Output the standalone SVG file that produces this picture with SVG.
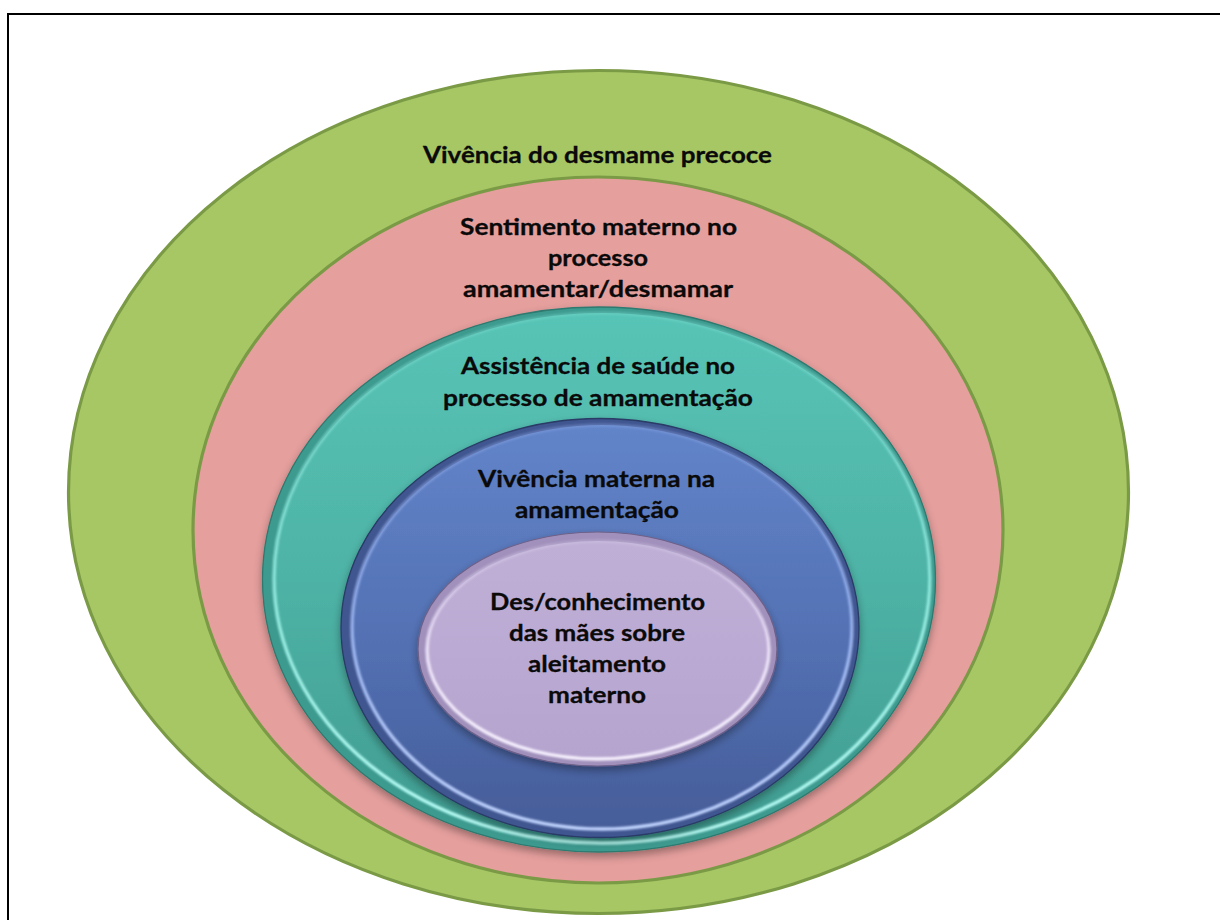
<svg xmlns="http://www.w3.org/2000/svg" width="1220" height="920" viewBox="0 0 1220 920">
  <style>
    .ring-line { stroke: #7B9A46; stroke-width: 3.2; }
    .lbl { font-family: Lato, "Open Sans", "Liberation Sans", sans-serif; font-weight: 700; font-size: 23.5px; fill: #0a0a0a; stroke: #0a0a0a; stroke-width: 0.3; }
    .rim { fill: none; stroke-width: 3.5; filter: url(#soften); }
  </style>
  <defs>
    <!-- soft drop shadow under the bevelled rings -->
    <filter id="drop" x="-10%" y="-10%" width="120%" height="125%">
      <feGaussianBlur in="SourceAlpha" stdDeviation="4"/>
      <feOffset dy="4" result="off"/>
      <feComponentTransfer><feFuncA type="linear" slope="0.35"/></feComponentTransfer>
      <feMerge><feMergeNode/><feMergeNode in="SourceGraphic"/></feMerge>
    </filter>
    <filter id="soften" x="-5%" y="-5%" width="110%" height="110%">
      <feGaussianBlur stdDeviation="1.1"/>
    </filter>

    <linearGradient id="tealBody" x1="0" y1="0" x2="0" y2="1">
      <stop offset="0" stop-color="#57C4B6"/>
      <stop offset="0.5" stop-color="#4EB3A6"/>
      <stop offset="1" stop-color="#409B90"/>
    </linearGradient>
    <linearGradient id="tealRim" x1="0" y1="0" x2="0" y2="1">
      <stop offset="0" stop-color="#7EDFD3" stop-opacity="0.35"/>
      <stop offset="0.55" stop-color="#9EF3E8" stop-opacity="0.85"/>
      <stop offset="1" stop-color="#BAFFF8" stop-opacity="1"/>
    </linearGradient>

    <linearGradient id="blueBody" x1="0" y1="0" x2="0" y2="1">
      <stop offset="0" stop-color="#6284C9"/>
      <stop offset="0.5" stop-color="#5472B5"/>
      <stop offset="1" stop-color="#465D99"/>
    </linearGradient>
    <linearGradient id="blueRim" x1="0" y1="0" x2="0" y2="1">
      <stop offset="0" stop-color="#90ACEA" stop-opacity="0.35"/>
      <stop offset="0.55" stop-color="#A9C2FA" stop-opacity="0.85"/>
      <stop offset="1" stop-color="#C2D5FF" stop-opacity="1"/>
    </linearGradient>

    <linearGradient id="lavBody" x1="0" y1="0" x2="0" y2="1">
      <stop offset="0" stop-color="#BFAFD6"/>
      <stop offset="0.5" stop-color="#BBAAD3"/>
      <stop offset="1" stop-color="#B5A4CE"/>
    </linearGradient>
    <linearGradient id="lavRim" x1="0" y1="0" x2="0" y2="1">
      <stop offset="0" stop-color="#DCCFEE" stop-opacity="0.3"/>
      <stop offset="0.5" stop-color="#EFE6FB" stop-opacity="0.9"/>
      <stop offset="1" stop-color="#F8F2FF" stop-opacity="1"/>
    </linearGradient>
  </defs>

  <rect width="1220" height="920" fill="#FFFFFF"/>
  <!-- page frame -->
  <rect x="8" y="14" width="1230" height="930" fill="none" stroke="#000" stroke-width="2"/>

  <g id="ring-desmame-precoce">
    <ellipse cx="598.5" cy="492" rx="530" ry="421.5" fill="#A7C765" class="ring-line"/>
    <text class="lbl" x="423" y="163" textLength="349" lengthAdjust="spacingAndGlyphs">Vivência do desmame precoce</text>
  </g>

  <g id="ring-sentimento-materno">
    <ellipse cx="598" cy="530" rx="405" ry="353" fill="#E59F9D" class="ring-line"/>
    <text class="lbl" x="460" y="235" textLength="277" lengthAdjust="spacingAndGlyphs">Sentimento materno no</text>
    <text class="lbl" x="548" y="266" textLength="100" lengthAdjust="spacingAndGlyphs">processo</text>
    <text class="lbl" x="463" y="297" textLength="270" lengthAdjust="spacingAndGlyphs">amamentar/desmamar</text>
  </g>

  <g id="ring-assistencia-saude">
    <g filter="url(#drop)">
      <ellipse cx="599" cy="579.5" rx="336.5" ry="272.5" fill="#3E9A8F" stroke="#2D7A70" stroke-width="1.3"/>
      <ellipse cx="602" cy="578" rx="328" ry="265" fill="url(#tealBody)"/>
    </g>
    <ellipse class="rim" cx="602" cy="578" rx="328" ry="265" stroke="url(#tealRim)"/>
    <text class="lbl" x="461" y="374" textLength="274" lengthAdjust="spacingAndGlyphs">Assistência de saúde no</text>
    <text class="lbl" x="443" y="406" textLength="310" lengthAdjust="spacingAndGlyphs">processo de amamentação</text>
  </g>

  <g id="ring-vivencia-materna">
    <g filter="url(#drop)">
      <ellipse cx="600" cy="628" rx="259" ry="209.5" fill="#3F5690" stroke="#2A3A66" stroke-width="1.3"/>
      <ellipse cx="602" cy="627" rx="250" ry="202" fill="url(#blueBody)"/>
    </g>
    <ellipse class="rim" cx="602" cy="627" rx="250" ry="202" stroke="url(#blueRim)"/>
    <text class="lbl" x="478" y="487" textLength="237" lengthAdjust="spacingAndGlyphs">Vivência materna na</text>
    <text class="lbl" x="515" y="518" textLength="164" lengthAdjust="spacingAndGlyphs">amamentação</text>
  </g>

  <g id="ring-desconhecimento">
    <g filter="url(#drop)">
      <ellipse cx="597.5" cy="649" rx="179.5" ry="117" fill="#A090BB" stroke="#6E6088" stroke-width="1.2"/>
      <ellipse cx="598" cy="650" rx="171" ry="109" fill="url(#lavBody)"/>
    </g>
    <ellipse class="rim" cx="598" cy="650" rx="171" ry="109" stroke="url(#lavRim)"/>
    <text class="lbl" x="490" y="610" textLength="215" lengthAdjust="spacingAndGlyphs">Des/conhecimento</text>
    <text class="lbl" x="509" y="641" textLength="176" lengthAdjust="spacingAndGlyphs">das mães sobre</text>
    <text class="lbl" x="528" y="672" textLength="138" lengthAdjust="spacingAndGlyphs">aleitamento</text>
    <text class="lbl" x="548" y="703" textLength="98" lengthAdjust="spacingAndGlyphs">materno</text>
  </g>
</svg>
